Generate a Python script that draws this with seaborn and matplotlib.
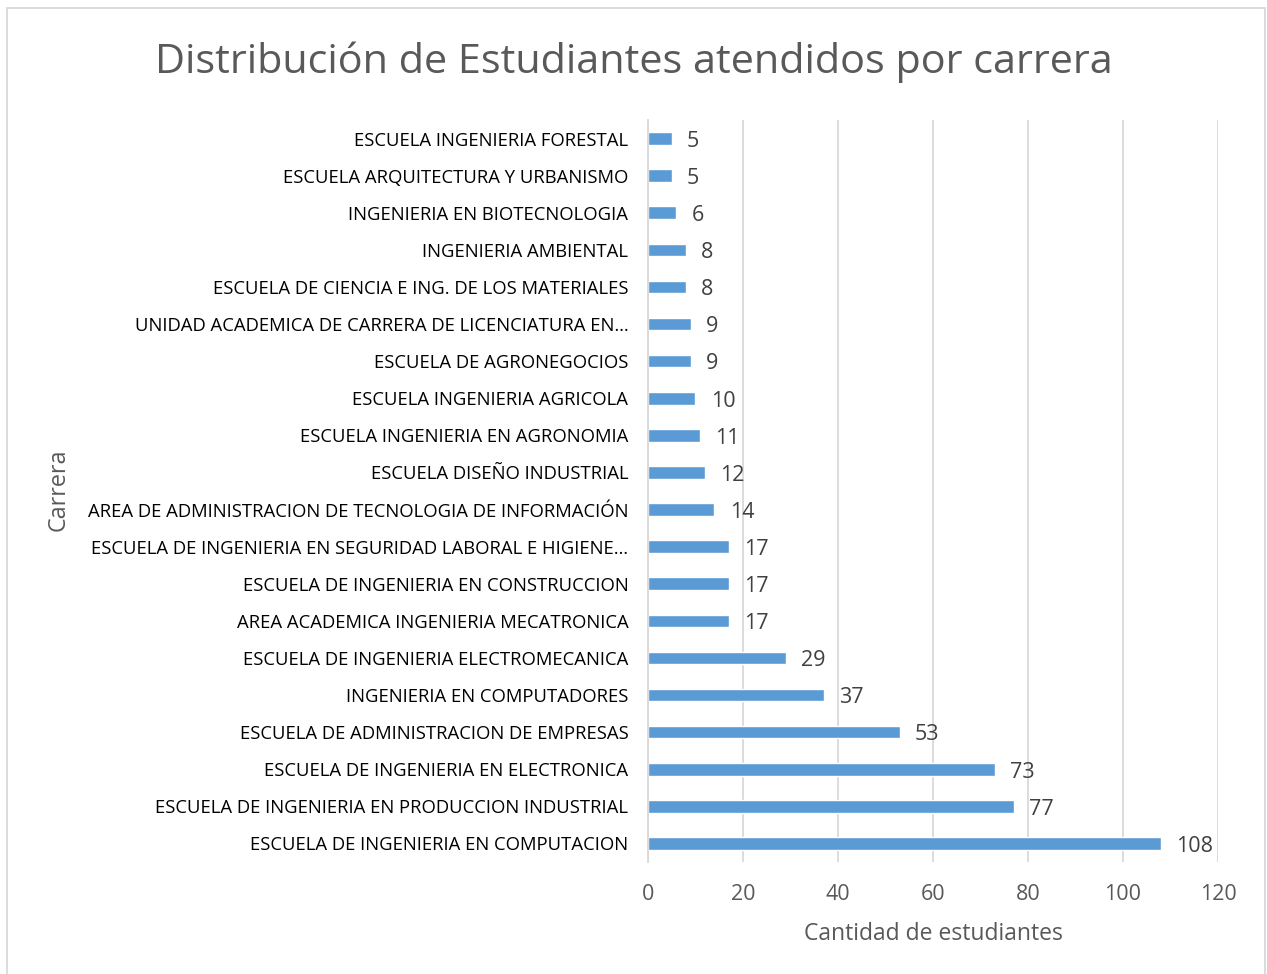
import numpy as np
import pandas as pd
import matplotlib
matplotlib.use("Agg")
import matplotlib.pyplot as plt
import matplotlib.patches as patches
import seaborn as sns

# careers, top to bottom as shown in the chart
carreras = [
    "ESCUELA INGENIERIA FORESTAL",
    "ESCUELA ARQUITECTURA Y URBANISMO",
    "INGENIERIA EN BIOTECNOLOGIA",
    "INGENIERIA AMBIENTAL",
    "ESCUELA DE CIENCIA E ING. DE LOS MATERIALES",
    "UNIDAD ACADEMICA DE CARRERA DE LICENCIATURA EN…",
    "ESCUELA DE AGRONEGOCIOS",
    "ESCUELA INGENIERIA AGRICOLA",
    "ESCUELA INGENIERIA EN AGRONOMIA",
    "ESCUELA DISEÑO INDUSTRIAL",
    "AREA DE ADMINISTRACION DE TECNOLOGIA DE INFORMACIÓN",
    "ESCUELA DE INGENIERIA EN SEGURIDAD LABORAL E HIGIENE…",
    "ESCUELA DE INGENIERIA EN CONSTRUCCION",
    "AREA ACADEMICA INGENIERIA MECATRONICA",
    "ESCUELA DE INGENIERIA ELECTROMECANICA",
    "INGENIERIA EN COMPUTADORES",
    "ESCUELA DE ADMINISTRACION DE EMPRESAS",
    "ESCUELA DE INGENIERIA EN ELECTRONICA",
    "ESCUELA DE INGENIERIA EN PRODUCCION INDUSTRIAL",
    "ESCUELA DE INGENIERIA EN COMPUTACION",
]
estudiantes = [5, 5, 6, 8, 8, 9, 9, 10, 11, 12, 14, 17, 17, 17, 29, 37, 53, 73, 77, 108]
x_ticks = [0, 20, 40, 60, 80, 100, 120]

df = pd.DataFrame({"Carrera": carreras, "Cantidad": estudiantes})

sns.set_style("white")
plt.rcParams['font.family'] = ['Open Sans', 'DejaVu Sans']

fig = plt.figure(figsize=(12.67, 9.74), dpi=100)
ax = fig.add_axes([0.5114, 0.115, 0.4499, 0.7618])

bar_color = "#5B9BD5"
sns.barplot(data=df, x="Cantidad", y="Carrera", order=carreras, color=bar_color,
            width=0.34, orient="h", ax=ax, saturation=1)

ax.set_xlim(0, 120)
ax.set_ylim(len(carreras) - 0.5, -0.5)
ax.set_xticks(x_ticks)
ax.xaxis.grid(True, color="#d9d9d9", linewidth=1.3)
ax.set_axisbelow(True)
for s in ["top", "right", "bottom"]:
    ax.spines[s].set_visible(False)
ax.spines["left"].set_color("#d9d9d9")
ax.spines["left"].set_linewidth(1.3)

ax.tick_params(axis="y", length=0, pad=14, labelsize=13.3, labelcolor="#000000")
ax.tick_params(axis="x", length=0, pad=16, labelsize=15.5, labelcolor="#595959")

ax.set_xlabel("Cantidad de estudiantes", fontsize=16.5, color="#595959", labelpad=12)
ax.set_ylabel("")
fig.text(0.046, 0.497, "Carrera", rotation=90, fontsize=16.8, color="#595959",
         ha="center", va="center")

for i, v in enumerate(estudiantes):
    ax.annotate(str(v), xy=(v, i), xytext=(11, -2), textcoords="offset points",
                ha="left", va="center", fontsize=15.5, color="#404040")

fig.text(0.5, 0.936, "Distribución de Estudiantes atendidos por carrera",
         ha="center", va="center", fontsize=29.8, color="#595959")

# chart frame
fig.patches.append(patches.Rectangle((0.0055, -0.01), 0.9929, 1.0018,
                                     transform=fig.transFigure, fill=False,
                                     edgecolor="#d9d9d9", linewidth=1.3))

fig.savefig("out.png", dpi=100, facecolor="white")
